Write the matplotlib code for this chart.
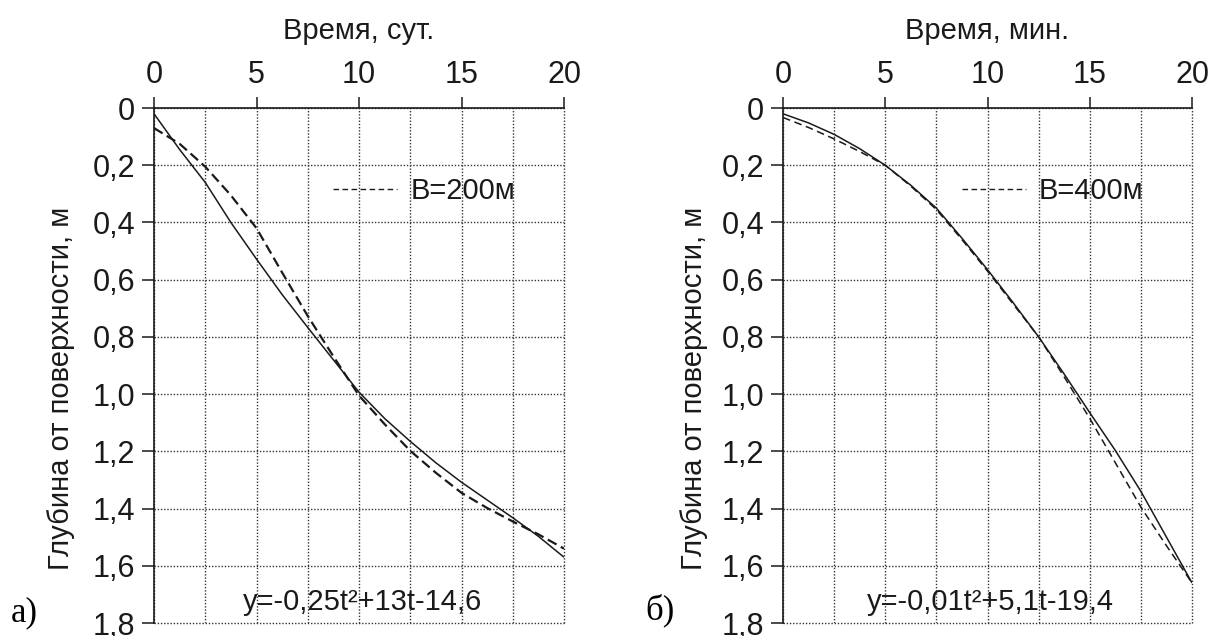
import numpy as np
import matplotlib
matplotlib.use("Agg")
from matplotlib import pyplot as plt
from matplotlib.lines import Line2D
import matplotlib.ticker as ticker

plt.rcParams['font.family'] = ['Liberation Sans', 'DejaVu Sans']

# ---- данные ----
t = [0, 1.25, 2.5, 3.75, 5, 6.25, 7.5, 8.75, 10, 11.25, 12.5, 13.75, 15, 16.25, 17.5, 18.75, 20]

# а) время, сут.
a_fact = [0.02, 0.145, 0.26, 0.40, 0.528, 0.652, 0.767, 0.88, 0.993, 1.085, 1.165, 1.24, 1.308,
          1.37, 1.432, 1.497, 1.57]
a_B200 = [0.07, 0.125, 0.205, 0.305, 0.42, 0.575, 0.727, 0.868, 1.005, 1.105, 1.198, 1.275, 1.345,
          1.398, 1.445, 1.49, 1.54]

# б) время, мин.
b_fact = [0.02, 0.052, 0.092, 0.142, 0.20, 0.27, 0.35, 0.455, 0.565, 0.68, 0.80, 0.93, 1.065,
          1.197, 1.34, 1.50, 1.66]
b_B400 = [0.033, 0.068, 0.108, 0.152, 0.20, 0.273, 0.355, 0.46, 0.57, 0.685, 0.80, 0.94, 1.085,
          1.24, 1.395, 1.53, 1.66]

x_ticks = [0, 5, 10, 15, 20]
y_ticks = [0, 0.2, 0.4, 0.6, 0.8, 1.0, 1.2, 1.4, 1.6, 1.8]

panels = [
    dict(rect=[0.1275, 0.0204, 0.3394, 0.8097], fact=a_fact, calc=a_B200,
         xlabel="Время, сут.", leg="B=200м", eq="y=-0,25t²+13t-14,6",
         letter="а)", letter_xy=(24, 613), ylab_x=-0.227,
         dash=(0, (4.5, 2.2)), dlw=1.6),
    dict(rect=[0.6482, 0.0204, 0.3386, 0.8097], fact=b_fact, calc=b_B400,
         xlabel="Время, мин.", leg="B=400м", eq="y=-0,01t²+5,1t-19,4",
         letter="б)", letter_xy=(660, 610), ylab_x=-0.218,
         dash=(0, (5, 3)), dlw=1.1),
]

ink = '#1a1a1a'

fig = plt.figure(figsize=(12.08, 6.36), dpi=100)

def fmt_y(v, pos):
    if abs(v) < 1e-9:
        return "0"
    return ("%.1f" % v).replace(".", ",")

for p in panels:
    ax = fig.add_axes(p['rect'])
    ax.plot(t, p['fact'], color=ink, lw=1.1, solid_capstyle='butt')
    ax.plot(t, p['calc'], color=ink, lw=p['dlw'], linestyle=p['dash'])

    ax.set_xlim(0, 20)
    ax.set_ylim(1.8, 0)

    ax.xaxis.tick_top()
    ax.xaxis.set_label_position('top')
    ax.set_xticks(x_ticks)
    ax.xaxis.set_minor_locator(ticker.MultipleLocator(2.5))
    ax.set_yticks(y_ticks)
    ax.yaxis.set_major_formatter(ticker.FuncFormatter(fmt_y))

    ax.tick_params(axis='x', which='major', direction='out', length=8, width=1.1,
                   labelsize=22, pad=5, colors=ink)
    ax.tick_params(axis='x', which='minor', length=0)
    ax.tick_params(axis='y', which='major', direction='out', length=8.5, width=1.1,
                   labelsize=22, pad=5, colors=ink)

    for s in ['right', 'bottom']:
        ax.spines[s].set_visible(False)
    for s in ['top', 'left']:
        ax.spines[s].set_linewidth(1.2)
        ax.spines[s].set_color(ink)

    ax.grid(True, which='both', axis='x', color='0.2', lw=1.0, linestyle=(0, (1, 1.3)))
    ax.grid(True, which='major', axis='y', color='0.2', lw=1.0, linestyle=(0, (1, 1.3)))
    for gl in ax.get_xgridlines() + ax.get_ygridlines() + ax.xaxis.get_minorticklines():
        gl.set_clip_on(False)
    ax.set_axisbelow(True)

    ax.set_xlabel(p['xlabel'], fontsize=21, labelpad=15, color=ink)
    ax.set_ylabel("Глубина от поверхности, м", fontsize=21, color=ink)
    ax.yaxis.label.set_va('center')
    ax.yaxis.set_label_coords(p['ylab_x'], 0.456)

    h = Line2D([], [], color=ink, lw=1.0, linestyle=(0, (4, 2.5)))
    ax.legend([h], [p['leg']], loc='center left', bbox_to_anchor=(0.4365, 1 - 0.29 / 1.8),
              frameon=False, fontsize=21, handlelength=2.2, handletextpad=0.45,
              borderpad=0, borderaxespad=0, labelcolor=ink)

    ax.text(10.15, 1.755, p['eq'], fontsize=21, ha='center', va='baseline', color=ink)

    lx, ly = p['letter_xy']
    fig.text(lx / 1208, 1 - ly / 636, p['letter'], fontsize=25, ha='center', va='center',
             family='Liberation Serif', color='black')

plt.savefig('out.png', dpi=100)
